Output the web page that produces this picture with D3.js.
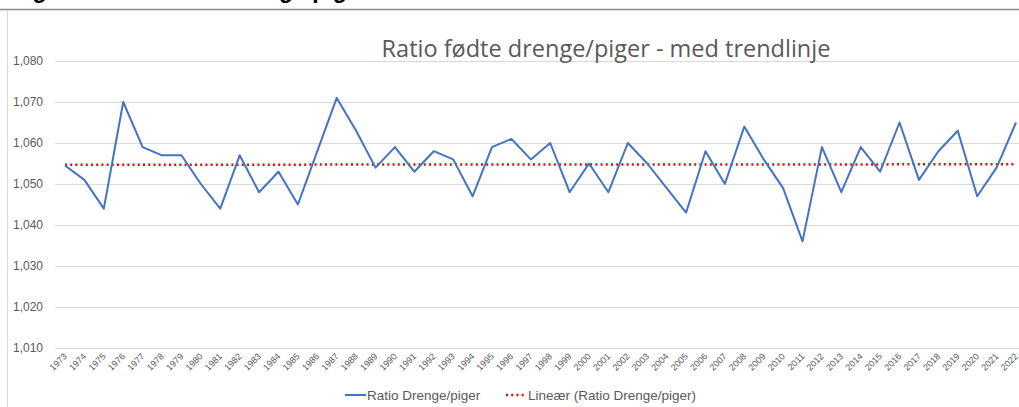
<!DOCTYPE html>
<html>
<head>
<meta charset="utf-8">
<script src="https://cdn.jsdelivr.net/npm/d3@7"></script>
<style>
  body { margin: 0; background: #fff; }
  svg { display: block; font-family: "Liberation Sans", Arial, sans-serif; }
</style>
</head>
<body>
<div id="chart"></div>
<script>
// data
const years = d3.range(1973, 2023).map(String);
const ratio = [
  1.0545, 1.051, 1.044, 1.070, 1.059, 1.057, 1.057, 1.050, 1.044, 1.057,
  1.048, 1.053, 1.045, 1.058, 1.071, 1.063, 1.054, 1.059, 1.053, 1.058,
  1.056, 1.047, 1.059, 1.061, 1.056, 1.060, 1.048, 1.055, 1.048, 1.060,
  1.055, 1.049, 1.043, 1.058, 1.050, 1.064, 1.056, 1.049, 1.036, 1.059,
  1.048, 1.059, 1.053, 1.065, 1.051, 1.058, 1.063, 1.047, 1.054, 1.065
];
// trend line end points (first year, last year)
const trendEnds = [1.0547, 1.0548];
const yTicks = [1.010, 1.020, 1.030, 1.040, 1.050, 1.060, 1.070, 1.080];

const width = 1019, height = 407;
const margin = {left: 65, right: 3, top: 61, bottom: 59};

const svg = d3.select('#chart').append('svg')
  .attr('width', width)
  .attr('height', height);

// caption above the frame, cropped at the top edge
svg.append('text')
  .attr('x', 12)
  .attr('y', -2)
  .style('font-size', '23px')
  .style('font-weight', 'bold')
  .attr('fill', '#000')
  .text('Figur 1: Ratio fødte drenge/piger');

svg.append('line')
  .attr('x1', 0).attr('x2', width)
  .attr('y1', 9.5).attr('y2', 9.5)
  .attr('stroke', '#8c8c8c').attr('stroke-width', 1.5);
svg.append('line')
  .attr('x1', 7.5).attr('x2', 7.5)
  .attr('y1', 10).attr('y2', height)
  .attr('stroke', '#d9d9d9').attr('stroke-width', 1);

const x = d3.scalePoint()
  .domain(years)
  .range([margin.left, width - margin.right]);

const y = d3.scaleLinear()
  .domain([1.010, 1.080])
  .range([height - margin.bottom, margin.top]);

const da = d3.formatLocale({decimal: ',', thousands: '.', grouping: [3], currency: ['', ' kr']});
const fmt = da.format('.3f');

// gridlines
svg.append('g')
  .selectAll('line')
  .data(yTicks)
  .enter().append('line')
  .attr('x1', 55).attr('x2', width)
  .attr('y1', d => Math.round(y(d)) + 0.5)
  .attr('y2', d => Math.round(y(d)) + 0.5)
  .attr('stroke', '#d9d9d9')
  .attr('stroke-width', 1);

// y axis labels
const yAxis = svg.append('g')
  .attr('transform', 'translate(43,0)')
  .call(d3.axisLeft(y).tickValues(yTicks).tickFormat(fmt).tickSize(0).tickPadding(0));
yAxis.select('.domain').remove();
yAxis.selectAll('text')
  .attr('fill', '#595959')
  .style('font-size', '12px')
  .style('font-family', '"Liberation Sans", Arial, sans-serif');

// x axis labels, rotated
const xAxis = svg.append('g')
  .attr('transform', 'translate(0,' + (height - margin.bottom) + ')')
  .call(d3.axisBottom(x).tickSize(0));
xAxis.select('.domain').remove();
xAxis.selectAll('text')
  .attr('fill', '#595959')
  .style('font-size', '9px')
  .style('font-family', '"Liberation Sans", Arial, sans-serif')
  .style('text-anchor', 'end')
  .attr('dy', null)
  .attr('y', 0)
  .attr('transform', 'translate(2,9) rotate(-45)');

// title
svg.append('text')
  .attr('x', 606)
  .attr('y', 57)
  .attr('text-anchor', 'middle')
  .attr('fill', '#595959')
  .style('font-size', '23.5px')
  .style('font-family', '"Open Sans", sans-serif')
  .text('Ratio fødte drenge/piger - med trendlinje');

// trend line
svg.append('line')
  .attr('x1', x(years[0]))
  .attr('x2', x(years[years.length - 1]))
  .attr('y1', y(trendEnds[0]))
  .attr('y2', y(trendEnds[1]))
  .attr('stroke', '#ff0000')
  .attr('stroke-width', 2.5)
  .attr('stroke-dasharray', '2,3.2');

// data line
const line = d3.line()
  .x((d, i) => x(years[i]))
  .y(d => y(d));

svg.append('path')
  .datum(ratio)
  .attr('d', line)
  .attr('fill', 'none')
  .attr('stroke', '#4472c4')
  .attr('stroke-width', 2)
  .attr('stroke-linejoin', 'round');

// legend
const legend = svg.append('g')
  .attr('transform', 'translate(0,395)');
legend.append('line')
  .attr('x1', 345).attr('x2', 366)
  .attr('y1', 0).attr('y2', 0)
  .attr('stroke', '#4472c4').attr('stroke-width', 2);
legend.append('text')
  .attr('x', 367).attr('y', 4.5)
  .attr('fill', '#595959')
  .style('font-size', '13.5px')
  .text('Ratio Drenge/piger');
legend.append('line')
  .attr('x1', 506).attr('x2', 524)
  .attr('y1', 0).attr('y2', 0)
  .attr('stroke', '#ff0000').attr('stroke-width', 2.5)
  .attr('stroke-dasharray', '2,3.2');
legend.append('text')
  .attr('x', 528).attr('y', 4.5)
  .attr('fill', '#595959')
  .style('font-size', '13.5px')
  .text('Lineær (Ratio Drenge/piger)');
</script>
</body>
</html>
